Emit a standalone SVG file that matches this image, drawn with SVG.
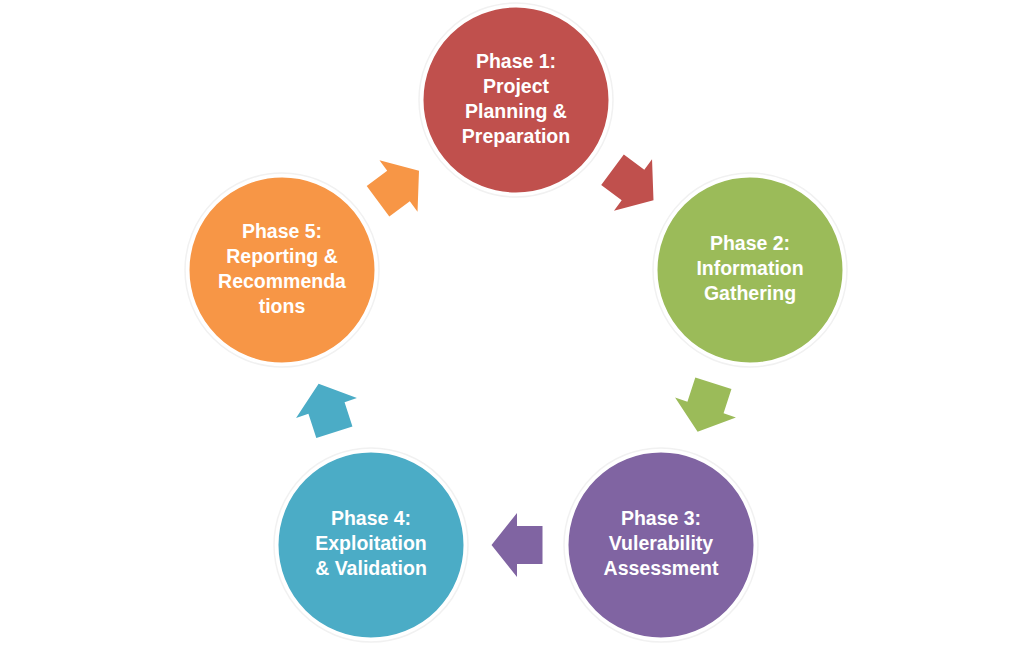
<svg xmlns="http://www.w3.org/2000/svg" width="1032" height="645" viewBox="0 0 1032 645">
<defs>
<style>
.halo{fill:none;stroke:#f1f1f1;stroke-width:1.5}
.disc{stroke:#ffffff;stroke-width:3}
.lbl{font-family:"Liberation Sans",Arial,sans-serif;font-weight:bold;font-size:19.5px;fill:#ffffff;text-anchor:middle}
</style>
<path id="blk" d="M-25.5,-19 L0,-19 L0,-32 L25.5,0 L0,32 L0,19 L-25.5,19 Z"/>
</defs>
<rect width="1032" height="645" fill="#ffffff"/>
<g id="connectors">
<use href="#blk" fill="#C0504D" transform="translate(633,185) rotate(36.5)"/>
<use href="#blk" fill="#9BBB59" transform="translate(705.5,407.5) rotate(108)"/>
<use href="#blk" fill="#8064A2" transform="translate(517,545) rotate(180)"/>
<use href="#blk" fill="#4BACC6" transform="translate(326.5,408) rotate(-108)"/>
<use href="#blk" fill="#F79646" transform="translate(398.5,186) rotate(-36.5)"/>
</g>
<g id="phase1">
<circle class="halo" cx="516" cy="100" r="97"/>
<circle class="disc" cx="516" cy="100" r="94" fill="#C0504D"/>
<text class="lbl" x="516" y="68">Phase 1:</text>
<text class="lbl" x="516" y="93">Project</text>
<text class="lbl" x="516" y="118">Planning &amp;</text>
<text class="lbl" x="516" y="143">Preparation</text>
</g>
<g id="phase2">
<circle class="halo" cx="750" cy="270" r="97"/>
<circle class="disc" cx="750" cy="270" r="94" fill="#9BBB59"/>
<text class="lbl" x="750" y="250">Phase 2:</text>
<text class="lbl" x="750" y="275">Information</text>
<text class="lbl" x="750" y="300">Gathering</text>
</g>
<g id="phase3">
<circle class="halo" cx="661" cy="545" r="97"/>
<circle class="disc" cx="661" cy="545" r="94" fill="#8064A2"/>
<text class="lbl" x="661" y="525">Phase 3:</text>
<text class="lbl" x="661" y="550">Vulerability</text>
<text class="lbl" x="661" y="575">Assessment</text>
</g>
<g id="phase4">
<circle class="halo" cx="371" cy="545" r="97"/>
<circle class="disc" cx="371" cy="545" r="94" fill="#4BACC6"/>
<text class="lbl" x="371" y="525">Phase 4:</text>
<text class="lbl" x="371" y="550">Exploitation</text>
<text class="lbl" x="371" y="575">&amp; Validation</text>
</g>
<g id="phase5">
<circle class="halo" cx="282" cy="270" r="97"/>
<circle class="disc" cx="282" cy="270" r="94" fill="#F79646"/>
<text class="lbl" x="282" y="238">Phase 5:</text>
<text class="lbl" x="282" y="263">Reporting &amp;</text>
<text class="lbl" x="282" y="288">Recommenda</text>
<text class="lbl" x="282" y="313">tions</text>
</g>
</svg>
